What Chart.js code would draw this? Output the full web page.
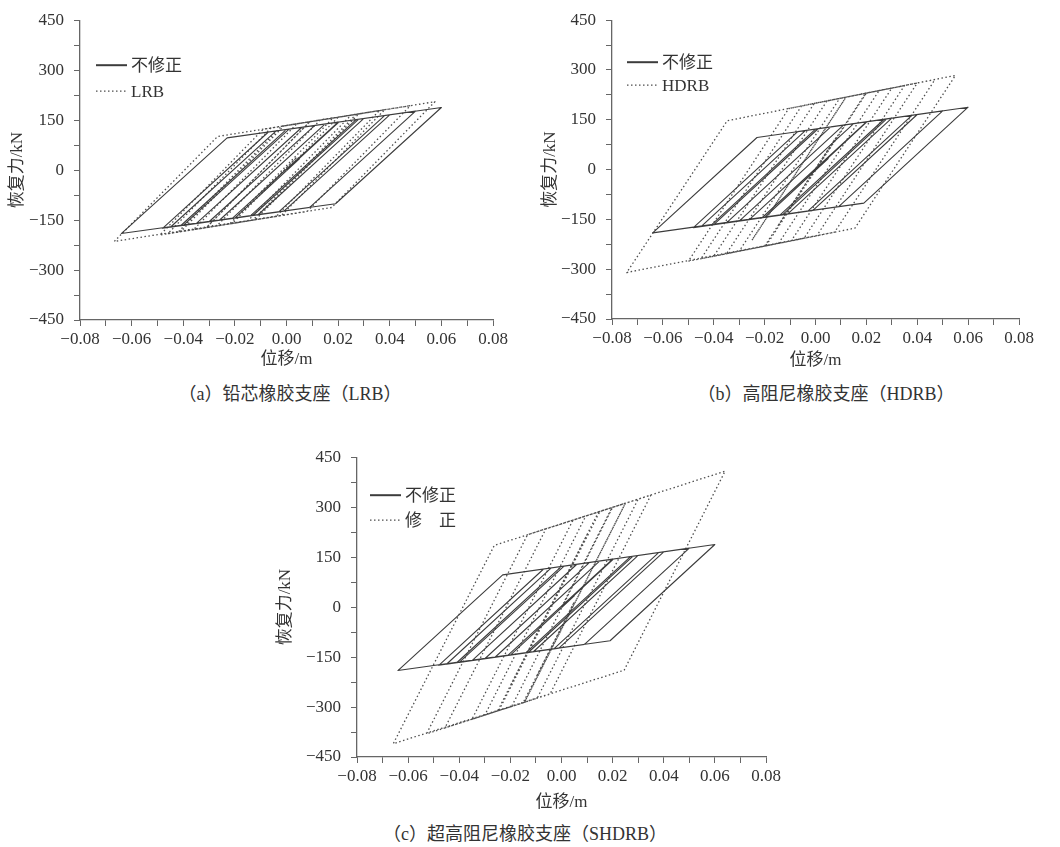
<!DOCTYPE html>
<html>
<head>
<meta charset="utf-8">
<script src="https://cdn.jsdelivr.net/npm/chart.js@4.4.1/dist/chart.umd.min.js"></script>
<style>
body { margin: 0; background: #fff; }
#page { position: relative; width: 1060px; height: 847px; overflow: hidden; }
canvas { position: absolute; }
.cap { position: absolute; transform: translateX(-50%); white-space: nowrap;
       font: 18px "Liberation Serif", "Noto Sans CJK SC", serif; color: #333; line-height: 20px; }
</style>
</head>
<body>
<div id="page">
  <canvas id="chartA" width="520" height="375" style="left:0;top:0"></canvas>
  <canvas id="chartB" width="515" height="375" style="left:532px;top:0"></canvas>
  <canvas id="chartC" width="527" height="385" style="left:267px;top:437px"></canvas>
  <div class="cap" style="left:290px;top:384px">（a）铅芯橡胶支座（LRB）</div>
  <div class="cap" style="left:826px;top:384px">（b）高阻尼橡胶支座（HDRB）</div>
  <div class="cap" style="left:525px;top:824px">（c）超高阻尼橡胶支座（SHDRB）</div>
</div>
<script>
// 滞回曲线转折点 (位移 m, 恢复力 kN)

// 不修正 (三幅图相同)
const solidDisp = [0, 0.0203, 0.028, -0.013, -0.030, 0.011, 0.040, -0.001, -0.041, 0.000,
  0.050, 0.009, -0.048, -0.007, 0.060, 0.019, -0.064, -0.023, 0.038, -0.003,
  -0.035, 0.006, 0.027, -0.014, -0.040, 0.001, 0.020, -0.021, -0.030, 0.011,
  0.015, -0.026, -0.045, -0.004, 0.030, -0.011, -0.020, 0.005, -0.010]
const solidForce = [0, 144.3, 152.8, -136.3, -155.0, 134.1, 166.0, -123.1, -167.1, 122.0,
  177.0, -112.1, -174.8, 114.3, 188.0, -101.1, -190.5, 96.7, 163.8, -125.3,
  -160.5, 128.6, 151.7, -137.4, -166.0, 123.1, 144.0, -145.1, -155.0, 134.1,
  138.5, -150.6, -171.5, 117.6, 155.0, -134.1, -144.0, 33.5, -73.0]

// LRB
const lrbDisp = [0, 0.020, 0.027, -0.013, -0.031, 0.009, 0.038, -0.002, -0.042, -0.002,
  0.048, 0.008, -0.049, -0.009, 0.0575, 0.0175, -0.0667, -0.0267, 0.036, -0.004,
  -0.036, 0.004, 0.025, -0.015, -0.041, -0.001, 0.018, -0.022, -0.031, 0.009,
  0.013, -0.027, -0.046, -0.006, 0.028, -0.012, -0.021, 0.004, -0.010]
const lrbForce = [0, 158.8, 167.5, -150.1, -172.4, 145.2, 181.1, -136.5, -186.1, 131.5,
  193.5, -124.1, -194.8, 122.8, 205.3, -112.3, -214.0, 100.9, 178.6, -139.0,
  -178.6, 139.0, 165.0, -152.6, -184.8, 132.8, 156.3, -161.3, -172.4, 145.2,
  150.1, -167.5, -191.0, 126.6, 168.7, -148.9, -160.0, 38.5, -72.7]

// HDRB
const hdrbDisp = [0, 0.0197, 0.030, -0.0095, -0.035, 0.0045, 0.040, 0.0005, -0.045, -0.0055,
  0.047, 0.0075, -0.050, -0.0105, 0.055, 0.0155, -0.0742, -0.0347, 0.035, -0.0045,
  -0.040, -0.0005, 0.020, -0.0195, -0.030, 0.0095, 0.012, -0.025, 0.012, 0.025,
  -0.0145, -0.020, 0.008, -0.015]
const hdrbForce = [0, 230.0, 245.6, -214.4, -253.2, 206.8, 260.8, -199.2, -268.4, 191.6,
  271.4, -188.6, -276.0, 184.0, 283.6, -176.4, -310.0, 147.2, 253.2, -206.8,
  -260.8, 199.2, 230.4, -229.6, -245.6, 214.4, 218.2, -212.8, 218.2, 238.0,
  -222.0, -230.4, 95.8, -172.0]

// SHDRB (修正)
const shdrbDisp = [0, 0.01975, 0.030, -0.0095, -0.035, 0.0045, 0.035, -0.0045, -0.0456, -0.0061,
  0.020, -0.0195, -0.0528, -0.0133, 0.064, 0.0245, -0.0658, -0.0263, 0.025, -0.0145,
  -0.030, 0.0095, 0.015, -0.0245, -0.025, 0.010, -0.020, 0.0145, 0.025, -0.0145,
  -0.015, 0.005, -0.010]
const shdrbForce = [0, 298.8, 324.1, -273.5, -336.5, 261.1, 336.5, -261.1, -362.6, 235.0,
  299.4, -298.2, -380.4, 217.2, 408.1, -189.5, -410.0, 185.1, 311.8, -285.8,
  -324.1, 273.5, 287.1, -310.5, -311.8, 217.8, -236.1, 285.8, 311.8, -285.8,
  -287.1, 15.5, -211.5]

// 坐标刻度
const xTicks = [-0.08, -0.07, -0.06, -0.05, -0.04, -0.03, -0.02, -0.01, 0, 0.01, 0.02, 0.03, 0.04, 0.05, 0.06, 0.07, 0.08]
const xLabels = ['−0.08', '', '−0.06', '', '−0.04', '', '−0.02', '', '0.00', '', '0.02', '', '0.04', '', '0.06', '', '0.08']
const yTicks = [-450, -375, -300, -225, -150, -75, 0, 75, 150, 225, 300, 375, 450]
const yLabels = ['−450', '', '−300', '', '−150', '', '0', '', '150', '', '300', '', '450']

Chart.defaults.font.family = '"Liberation Serif", "Noto Sans CJK SC", serif'
Chart.defaults.font.size = 17
Chart.defaults.color = '#333'

const pts = (xs, ys) => xs.map((x, i) => ({ x: x, y: ys[i] }))

// 图内图例
const insideLegend = {
    id: 'insideLegend',
    afterDatasetsDraw(chart, args, opts) {
        const { ctx, chartArea } = chart
        ctx.save()
        ctx.font = '17px "Liberation Serif", "Noto Sans CJK SC", serif'
        ctx.textBaseline = 'middle'
        ctx.fillStyle = '#333'
        chart.data.datasets.forEach((ds, i) => {
            const x = chartArea.left + opts.x
            const y = chartArea.top + opts.y + i * opts.gap
            ctx.strokeStyle = ds.borderColor
            ctx.lineWidth = ds.borderDash ? 1.3 : 2
            ctx.setLineDash(ds.borderDash || [])
            ctx.beginPath()
            ctx.moveTo(x, y)
            ctx.lineTo(x + 31, y)
            ctx.stroke()
            ctx.setLineDash([])
            ctx.fillText(ds.legendText || ds.label, x + 35, y + 1)
        })
        ctx.restore()
    }
}

function makeChart(id, cfg) {
    return new Chart(document.getElementById(id), {
        type: 'scatter',
        data: {
            datasets: [{
                label: '不修正',
                data: pts(solidDisp, solidForce),
                showLine: true,
                borderColor: '#3c3c3c',
                borderWidth: 1.1,
                borderJoinStyle: 'round',
                pointRadius: 0
            }, {
                label: cfg.label,
                legendText: cfg.legendText,
                data: pts(cfg.x, cfg.y),
                showLine: true,
                borderColor: '#4e4e4e',
                borderWidth: 1.3,
                borderDash: [1.5, 2.5],
                borderJoinStyle: 'round',
                pointRadius: 0
            }]
        },
        options: {
            responsive: false,
            animation: false,
            events: [],
            layout: { padding: { top: 15, right: cfg.right, bottom: 0, left: 0 } },
            plugins: {
                legend: { display: false },
                tooltip: { enabled: false },
                insideLegend: cfg.legend
            },
            scales: {
                x: {
                    type: 'linear',
                    min: -0.08,
                    max: 0.08,
                    afterBuildTicks: s => { s.ticks = xTicks.map(v => ({ value: v })) },
                    afterFit: s => { s.height = cfg.xh },
                    ticks: { callback: (v, i) => xLabels[i], autoSkip: false, maxRotation: 0, padding: 3 },
                    grid: { drawOnChartArea: false, tickLength: 6, color: '#666' },
                    border: { color: '#666', width: 1.3 },
                    title: { display: true, text: '位移/m', padding: { top: 0, bottom: cfg.xtp } }
                },
                y: {
                    type: 'linear',
                    min: -450,
                    max: 450,
                    afterBuildTicks: s => { s.ticks = yTicks.map(v => ({ value: v })) },
                    afterFit: s => { s.width = cfg.yw },
                    ticks: { callback: (v, i) => yLabels[i], autoSkip: false, padding: 10 },
                    grid: { drawOnChartArea: false, tickLength: 6, color: '#666' },
                    border: { color: '#666', width: 1.3 },
                    title: { display: true, text: '恢复力/kN', padding: { top: cfg.ytp, bottom: 0 } }
                }
            }
        },
        plugins: [insideLegend]
    })
}

document.addEventListener('DOMContentLoaded', () => {
    makeChart('chartA', { label: 'LRB', x: lrbDisp, y: lrbForce, right: 27, xh: 55, xtp: 5, yw: 80, ytp: 7,
        legend: { x: 16, y: 45, gap: 26 } })
    makeChart('chartB', { label: 'HDRB', x: hdrbDisp, y: hdrbForce, right: 28, xh: 56, xtp: 4, yw: 80, ytp: 8,
        legend: { x: 15, y: 42, gap: 23 } })
    makeChart('chartC', { label: '修正', legendText: '修\u3000正', x: shdrbDisp, y: shdrbForce, right: 28, xh: 65, xtp: 9, yw: 90, ytp: 8,
        legend: { x: 13, y: 38, gap: 25 } })
})
</script>
</body>
</html>
